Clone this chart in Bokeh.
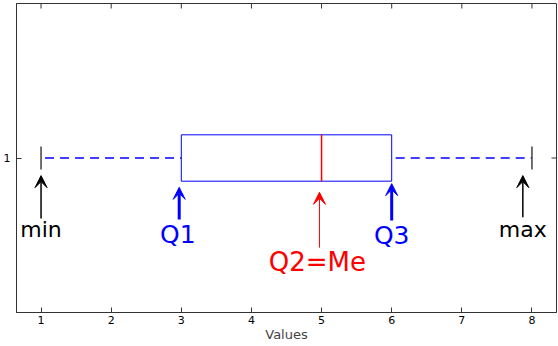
from bokeh.plotting import figure
from bokeh.models import Range1d, Arrow, VeeHead, FixedTicker, Label
from bokeh.embed import file_html
from bokeh.resources import INLINE
import math

# ---- data ----
stat_names = ["min", "Q1", "Q2=Me", "Q3", "max"]
stat_values = [1, 3, 5, 6, 8]
x_ticks = [1, 2, 3, 4, 5, 6, 7, 8]
y_ticks = [1]
group_pos = 1
box_half = 0.075
cap_half = 0.0375

vmin, q1, q2, q3, vmax = stat_values

FONT = "DejaVu Sans"
X0, X1 = 0.65, 8.35
Y0, Y1 = 0.5, 1.5

p = figure(width=558, height=346, output_backend="svg", toolbar_location=None,
           x_range=Range1d(X0, X1), y_range=Range1d(Y0, Y1),
           min_border_left=16, min_border_right=2, min_border_top=3, min_border_bottom=34)
p.grid.visible = False
p.outline_line_color = "#333333"
p.background_fill_color = "white"

# axes styling
for ax in [p.xaxis[0], p.yaxis[0]]:
    ax.major_tick_in = 5
    ax.major_tick_out = 0
    ax.minor_tick_line_color = None
    ax.axis_line_color = "#333333"
    ax.major_tick_line_color = "#333333"
    ax.major_label_text_font = FONT
    ax.major_label_text_font_size = "11px"
    ax.major_label_text_color = "black"
p.xaxis.ticker = FixedTicker(ticks=x_ticks)
p.yaxis.ticker = FixedTicker(ticks=y_ticks)
p.xaxis.major_label_standoff = 3
p.yaxis.major_label_standoff = 6
p.xaxis.axis_label = "Values"
p.xaxis.axis_label_text_font = FONT
p.xaxis.axis_label_text_font_size = "13px"
p.xaxis.axis_label_text_font_style = "normal"
p.xaxis.axis_label_standoff = 0

# mirrored ticks on top and right edges (clipped to the frame, so half shows)
p.scatter(x=x_ticks, y=[Y1] * len(x_ticks), marker="dash", size=10, angle=math.pi / 2,
          line_color="#333333", line_width=1)
p.scatter(x=[X1] * len(y_ticks), y=y_ticks, marker="dash", size=10,
          line_color="#333333", line_width=1)

# box
p.quad(left=[q1], right=[q3], bottom=[group_pos - box_half], top=[group_pos + box_half],
       fill_color=None, line_color="#0000ff", line_width=1)
# median
p.segment(x0=[q2], x1=[q2], y0=[group_pos - box_half], y1=[group_pos + box_half],
          line_color="#ff0000", line_width=1.5)
# whiskers
p.segment(x0=[vmin, q3], x1=[q1, vmax], y0=[group_pos, group_pos], y1=[group_pos, group_pos],
          line_color="#0000ff", line_width=1.3, line_dash="9 6", line_dash_offset=-4)
# caps
p.segment(x0=[vmin, vmax], x1=[vmin, vmax], y0=[group_pos - cap_half] * 2, y1=[group_pos + cap_half] * 2,
          line_color="#404040", line_width=1.5)

# annotation arrows and labels
ann = [
    # name, value, color, arrow x offset, tip y, tail y, text y, text x offset, width, size
    ("min", vmin, "black", 0.0, 0.943, 0.804, 0.768, 0.0, 1.5, 22),
    ("Q1", q1, "#0000ff", -0.03, 0.905, 0.801, 0.753, -0.05, 3, 25),
    ("Q2=Me", q2, "#ff0000", -0.03, 0.889, 0.710, 0.664, -0.06, 1, 26),
    ("Q3", q3, "#0000ff", 0.0, 0.917, 0.798, 0.750, 0.0, 3, 25),
    ("max", vmax, "black", -0.13, 0.943, 0.808, 0.768, -0.13, 1.5, 22),
]
for name, val, col, dx, tip, tail, ty, tdx, lw, fs in ann:
    p.add_layout(Arrow(end=VeeHead(size=12, fill_color=col, line_color=col, line_width=1),
                       x_start=val + dx, y_start=tail, x_end=val + dx, y_end=tip,
                       line_color=col, line_width=lw))
    p.add_layout(Label(x=val + tdx, y=ty, text=name, text_align="center",
                       text_baseline="alphabetic", text_color=col,
                       text_font=FONT, text_font_size=f"{fs}px"))

open("out.html", "w").write(file_html(p, INLINE))
